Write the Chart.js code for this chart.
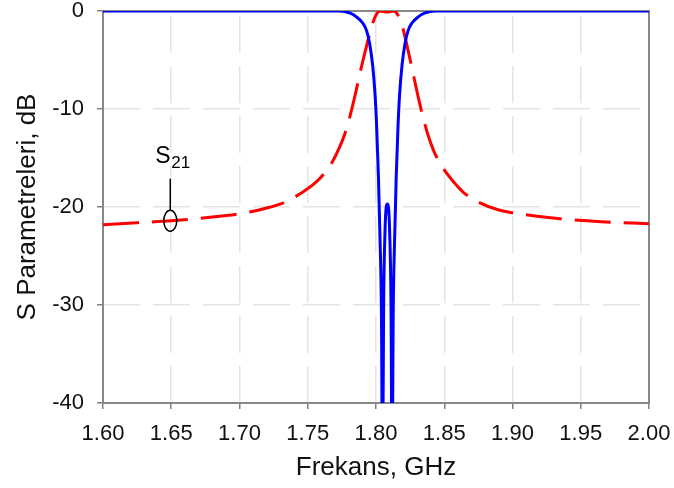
<!DOCTYPE html>
<html>
<head>
<meta charset="utf-8">
<script src="https://cdn.jsdelivr.net/npm/chart.js@4.4.0/dist/chart.umd.min.js"></script>
<style>
  html, body { margin: 0; padding: 0; background: #fff; }
  #wrap { width: 674px; height: 488px; }
</style>
</head>
<body>
<div id="wrap"><canvas id="myChart" width="674" height="488"></canvas></div>
<script>
// S21 (dashed red) - frequency in GHz, level in dB
const freqS21 = [1.600, 1.625, 1.650, 1.675, 1.700, 1.720, 1.735, 1.745, 1.755, 1.762,
  1.768, 1.773, 1.777, 1.781, 1.785, 1.789, 1.793, 1.797, 1.800, 1.803, 1.808, 1.813,
  1.816, 1.819, 1.822, 1.826, 1.830, 1.834, 1.838, 1.843, 1.849, 1.856, 1.864, 1.875,
  1.890, 1.910, 1.935, 1.965, 2.000];
const s21 = [-21.8, -21.6, -21.4, -21.1, -20.7, -20.1, -19.4, -18.6, -17.6, -16.6,
  -15.4, -14.0, -12.6, -10.7, -8.4, -5.9, -3.6, -1.5, -0.4, 0, -0.1, 0,
  -0.4, -1.4, -3.1, -5.6, -8.2, -10.6, -12.6, -14.5, -16.0, -17.3, -18.5, -19.5,
  -20.3, -20.8, -21.2, -21.5, -21.7];

// S11 (solid blue)
const freqS11 = [1.600, 1.700, 1.7733, 1.7806, 1.7857, 1.7901, 1.7931, 1.7953, 1.7975,
  1.7993, 1.8004, 1.8018, 1.8029, 1.8040, 1.8048, 1.8056, 1.8066, 1.8075, 1.8083,
  1.8091, 1.8100, 1.8110, 1.8118, 1.8126, 1.8137, 1.8148, 1.8162, 1.8173, 1.8191,
  1.8213, 1.8235, 1.8265, 1.8309, 1.8360, 1.8433, 1.900, 2.000];
const s11 = [0, 0, 0, -0.2, -0.6, -1.2, -2.0, -3.3, -5.5,
  -8.5, -11.5, -17, -23, -31, -48, -30, -22.5, -20.0, -19.7,
  -20.0, -22.5, -30, -48, -31, -23, -17, -11.5, -8.5, -5.5,
  -3.3, -2.0, -1.2, -0.6, -0.2, 0, 0, 0];

const xTicks = [1.60, 1.65, 1.70, 1.75, 1.80, 1.85, 1.90, 1.95, 2.00];
const yTicks = [0, -10, -20, -30, -40];

const labelFreq = 1.65;
const labelLevel = -21.4;

const toPoints = (xs, ys) => xs.map((x, i) => ({ x: x, y: ys[i] }));

const ctx = document.getElementById("myChart").getContext("2d");
const font = "'Liberation Sans', Arial, sans-serif";

// gray frame around the plot area
const plotFrame = {
  id: "plotFrame",
  beforeDatasetsDraw(chart) {
    const a = chart.chartArea;
    const c = chart.ctx;
    c.save();
    c.strokeStyle = "#888888";
    c.lineWidth = 2;
    c.strokeRect(a.left, a.top, a.right - a.left, a.bottom - a.top);
    c.restore();
  },
};

// S21 callout
const s21Label = {
  id: "s21Label",
  afterDatasetsDraw(chart) {
    const c = chart.ctx;
    const x = chart.scales.x.getPixelForValue(labelFreq) - 1;
    const y = chart.scales.y.getPixelForValue(labelLevel);
    c.save();
    c.strokeStyle = "#000";
    c.lineWidth = 1.5;
    c.beginPath();
    c.ellipse(x, y, 6.5, 10.5, 0, 0, Math.PI * 2);
    c.stroke();
    c.beginPath();
    c.moveTo(x, y - 10.5);
    c.lineTo(x, y - 42);
    c.stroke();
    c.fillStyle = "#000";
    c.textBaseline = "alphabetic";
    c.textAlign = "left";
    c.font = "23px " + font;
    c.fillText("S", x - 15, y - 58);
    c.font = "17px " + font;
    c.fillText("21", x + 1, y - 53);
    c.restore();
  },
};

new Chart(ctx, {
  type: "line",
  data: {
    datasets: [
      {
        label: "S11",
        data: toPoints(freqS11, s11),
        borderColor: "#0000ff",
        borderWidth: 3,
        pointRadius: 0,
        cubicInterpolationMode: "monotone",
        fill: false,
      },
      {
        label: "S21",
        data: toPoints(freqS21, s21),
        borderColor: "#ff0000",
        borderWidth: 3,
        borderDash: [36, 13],
        pointRadius: 0,
        cubicInterpolationMode: "monotone",
        fill: false,
      },
    ],
  },
  options: {
    responsive: false,
    animation: false,
    devicePixelRatio: 1,
    layout: { padding: { left: 0, right: 25, top: 11, bottom: 0 } },
    plugins: {
      legend: { display: false },
      tooltip: { enabled: false },
    },
    scales: {
      x: {
        type: "linear",
        min: 1.6,
        max: 2.0,
        afterBuildTicks: (scale) => {
          scale.ticks = xTicks.map((v) => ({ value: v }));
        },
        afterFit: (scale) => {
          scale.height = 85;
          scale.paddingLeft = 0;
          scale.paddingRight = 0;
          scale.paddingTop = 0;
          scale.paddingBottom = 0;
        },
        grid: {
          color: "#e4e4e4",
          lineWidth: 1.5,
          tickLength: 6,
          tickColor: "#808080",
          tickWidth: 1.5,
        },
        border: { display: false, dash: [37, 13], dashOffset: 45 },
        ticks: {
          color: "#111",
          font: { family: font, size: 22 },
          padding: 12,
          maxRotation: 0,
          callback: (v) => Number(v).toFixed(2),
        },
        title: {
          display: true,
          text: "Frekans, GHz",
          color: "#111",
          font: { family: font, size: 26 },
          padding: { top: 0, bottom: 5 },
        },
      },
      y: {
        min: -40,
        max: 0,
        afterBuildTicks: (scale) => {
          scale.ticks = yTicks.map((v) => ({ value: v }));
        },
        afterFit: (scale) => {
          scale.width = 103;
          scale.paddingLeft = 0;
          scale.paddingRight = 0;
          scale.paddingTop = 0;
          scale.paddingBottom = 0;
        },
        grid: {
          color: "#e4e4e4",
          lineWidth: 1.5,
          tickLength: 6,
          tickColor: "#808080",
          tickWidth: 1.5,
        },
        border: { display: false, dash: [37, 13], dashOffset: 0 },
        ticks: {
          color: "#111",
          font: { family: font, size: 22 },
          padding: 13,
        },
        title: {
          display: true,
          text: "S Parametreleri, dB",
          color: "#111",
          font: { family: font, size: 26 },
          padding: { top: 12, bottom: 0 },
        },
      },
    },
  },
  plugins: [plotFrame, s21Label],
});
</script>
</body>
</html>
